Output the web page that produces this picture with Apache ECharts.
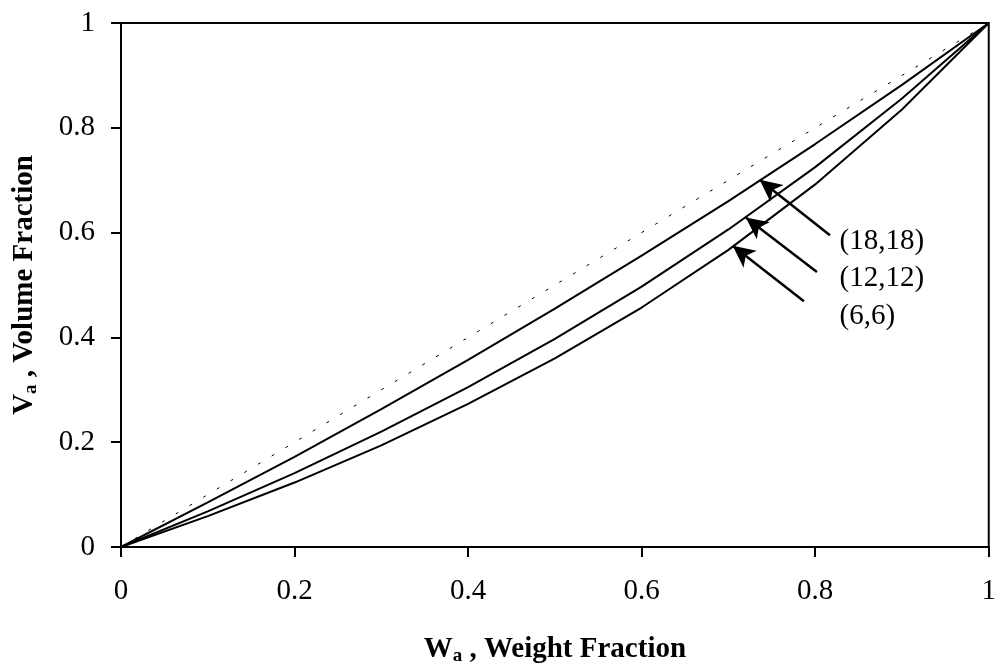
<!DOCTYPE html>
<html>
<head>
<meta charset="utf-8">
<script src="https://cdn.jsdelivr.net/npm/echarts@6/dist/echarts.min.js"></script>
<style>
  html, body { margin: 0; padding: 0; background: #fff; }
  #chart { width: 999px; height: 671px; }
</style>
</head>
<body>
<div id="chart"></div>
<script>
// weight fraction (x)
var weightFraction = [0, 0.1, 0.2, 0.3, 0.4, 0.5, 0.6, 0.7, 0.8, 0.9, 1];
// volume fraction (y)
var vol18 = [0, 0.085, 0.172, 0.263, 0.357, 0.455, 0.556, 0.660, 0.769, 0.882, 1];
var vol12 = [0, 0.068, 0.141, 0.220, 0.305, 0.397, 0.497, 0.606, 0.725, 0.856, 1];
var vol6 = [0, 0.059, 0.123, 0.194, 0.273, 0.360, 0.457, 0.567, 0.692, 0.835, 1];
// dotted reference line y = x
var diagonal = [[0, 0], [1, 1]];
// arrows: tail (near label) -> head (on curve), in data units
var arrows = [
  [[0.817, 0.595], [0.736, 0.701]],
  [[0.802, 0.525], [0.720, 0.629]],
  [[0.787, 0.469], [0.705, 0.575]]
];
// curve labels
var curveLabels = [
  [0.828, 0.583, '(18,18)'],
  [0.828, 0.512, '(12,12)'],
  [0.828, 0.440, '(6,6)']
];
var axisTicks = [0, 0.2, 0.4, 0.6, 0.8, 1];

var font = 'Liberation Serif, Times New Roman, serif';

function pairs(xs, ys) {
  return xs.map(function (x, i) { return [x, ys[i]]; });
}

function curve(name, ys) {
  return {
    name: name,
    type: 'line',
    data: pairs(weightFraction, ys),
    symbol: 'none',
    smooth: false,
    lineStyle: { color: '#000', width: 2 },
    z: 3
  };
}

var chart = echarts.init(document.getElementById('chart'));

chart.setOption({
  animation: false,
  backgroundColor: '#fff',
  grid: {
    left: 121,
    right: 10,
    top: 23,
    bottom: 121,
    show: true,
    borderColor: '#000',
    borderWidth: 2
  },
  xAxis: {
    type: 'value',
    min: axisTicks[0],
    max: axisTicks[axisTicks.length - 1],
    interval: 0.2,
    axisLine: { lineStyle: { color: '#000', width: 2 } },
    axisTick: { length: 10, lineStyle: { color: '#000', width: 2 } },
    splitLine: { show: false },
    axisLabel: { color: '#000', fontFamily: font, fontSize: 29, margin: 30 },
    name: '{b|W}{s|a}{b| , Weight Fraction}',
    nameLocation: 'middle',
    nameGap: 86,
    nameTextStyle: {
      rich: {
        b: { fontFamily: font, fontSize: 29, fontWeight: 'bold', color: '#000' },
        s: { fontFamily: font, fontSize: 19, fontWeight: 'bold', color: '#000', padding: [14, 0, 0, 0] }
      }
    }
  },
  yAxis: {
    type: 'value',
    min: axisTicks[0],
    max: axisTicks[axisTicks.length - 1],
    interval: 0.2,
    axisLine: { lineStyle: { color: '#000', width: 2 } },
    axisTick: { length: 10, lineStyle: { color: '#000', width: 2 } },
    splitLine: { show: false },
    axisLabel: { color: '#000', fontFamily: font, fontSize: 29, margin: 26 },
    name: '{b|V}{s|a}{b| , Volume Fraction}',
    nameLocation: 'middle',
    nameRotate: 90,
    nameGap: 80,
    nameTextStyle: {
      rich: {
        b: { fontFamily: font, fontSize: 29, fontWeight: 'bold', color: '#000' },
        s: { fontFamily: font, fontSize: 19, fontWeight: 'bold', color: '#000', padding: [14, 0, 0, 0] }
      }
    }
  },
  series: [
    {
      name: 'diagonal',
      type: 'line',
      data: diagonal,
      symbol: 'none',
      lineStyle: { color: '#000', width: 1, type: [3, 13] },
      z: 2,
      markLine: {
        silent: true,
        symbol: ['none', 'arrow'],
        symbolSize: [16, 22],
        label: { show: false },
        lineStyle: { color: '#000', width: 2.5, type: 'solid' },
        data: arrows.map(function (a) {
          return [{ coord: a[0] }, { coord: a[1] }];
        })
      }
    },
    curve('(18,18)', vol18),
    curve('(12,12)', vol12),
    curve('(6,6)', vol6),
    {
      name: 'labels',
      type: 'scatter',
      data: curveLabels,
      symbolSize: 0,
      silent: true,
      itemStyle: { opacity: 1 },
      label: {
        show: true,
        position: 'right',
        distance: 0,
        formatter: function (p) { return p.value[2]; },
        color: '#000',
        opacity: 1,
        fontFamily: font,
        fontSize: 29
      }
    }
  ]
});
</script>
</body>
</html>
